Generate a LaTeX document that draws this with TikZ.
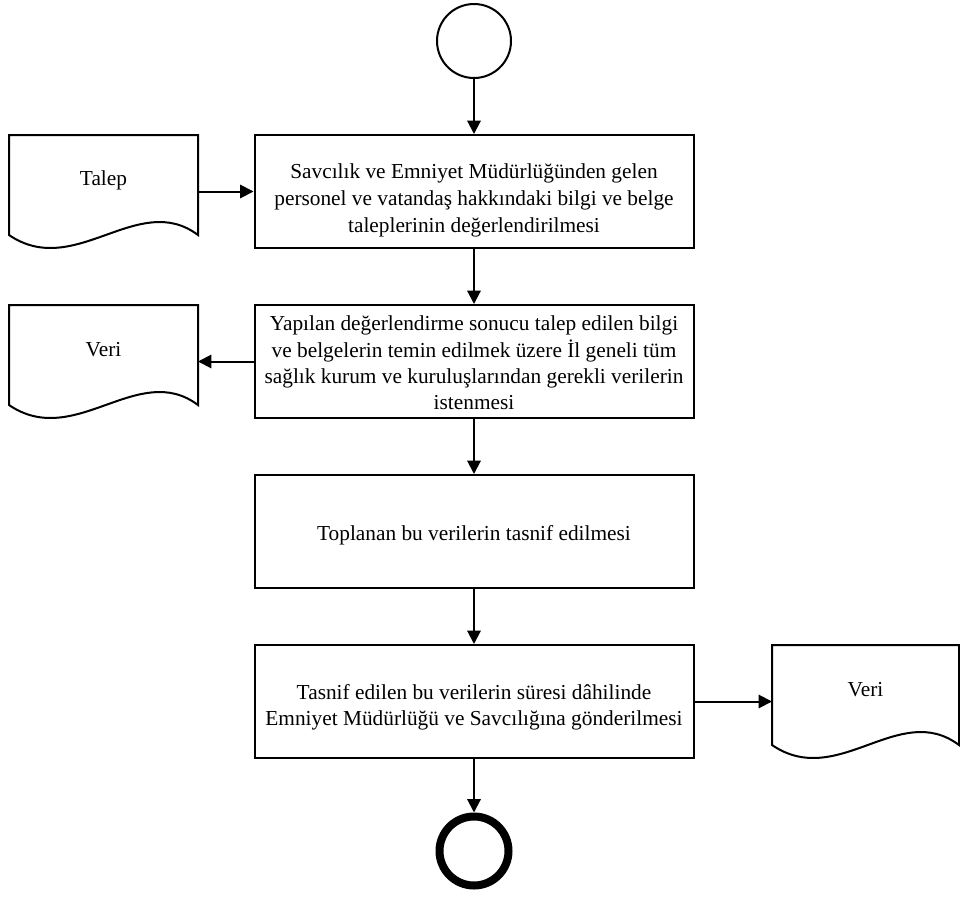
\documentclass[tikz,border=0pt]{standalone}
\usepackage{fontspec}
\setmainfont{Liberation Serif}
\usetikzlibrary{arrows.meta}

% one unit = one pixel of a 960 x 896 canvas, y growing downwards
\tikzset{
  x=0.75pt, y=-0.75pt,
  every node/.style={font=\fontsize{16}{19.8}\selectfont},
  procbox/.style={draw, line width=1.5pt, rectangle, inner sep=0pt,
    minimum width=329.25pt, minimum height=84.75pt},
  proctext/.style={align=center, inner sep=0pt},
  docarea/.style={rectangle, inner sep=0pt, outer sep=0pt,
    minimum width=141.75pt, minimum height=84.75pt},
  startev/.style={draw, circle, line width=1.5pt, inner sep=0pt, minimum size=55.5pt},
  endev/.style={draw, circle, line width=6pt, inner sep=0pt, minimum size=51.75pt},
  flow/.style={line width=1.5pt, -{Triangle[length=10pt,width=10pt]}},
  docline/.style={line width=1.5pt, line join=miter},
}

% document symbol: left x, top y, right x
\newcommand\docoutline[3]{%
  \draw[docline] (#1,{#2+100}) -- (#1,#2) -- (#3,#2) -- (#3,{#2+100})
    .. controls ({#3-60},{#2+55}) and ({#1+66},{#2+145}) .. (#1,{#2+100}) -- cycle;}

\begin{document}
\begin{tikzpicture}
\useasboundingbox (0,0) rectangle (960,896);

% events
\node[startev] (start) at (474,41) {};
\node[endev] (stop) at (474,851) {};

% process steps
\node[procbox] (b1) at (474,191.5) {};
\node[proctext, font=\fontsize{16}{20.3}\selectfont] (b1t) at (474,200.5) {Savcılık ve Emniyet Müdürlüğünden gelen\\personel ve vatandaş hakkındaki bilgi ve belge\\taleplerinin değerlendirilmesi};
\node[procbox] (b2) at (474,361.5) {};
\node[proctext] (b2t) at (474,363) {Yapılan değerlendirme sonucu talep edilen bilgi\\ve belgelerin temin edilmek üzere İl geneli tüm\\sağlık kurum ve kuruluşlarından gerekli verilerin\\istenmesi};
\node[procbox] (b3) at (474,531.5) {};
\node[proctext] (b3t) at (474,535) {Toplanan bu verilerin tasnif edilmesi};
\node[procbox] (b4) at (474,701.5) {};
\node[proctext] (b4t) at (474,707) {Tasnif edilen bu verilerin süresi dâhilinde\\Emniyet Müdürlüğü ve Savcılığına gönderilmesi};

% documents
\docoutline{9}{135}{198}
\node[docarea] (talep) at (103.5,191.5) {};
\node (talepT) at (103.5,180) {Talep};

\docoutline{9}{305}{198}
\node[docarea] (veri1) at (103.5,361.5) {};
\node (veri1T) at (103.5,350) {Veri};

\docoutline{772}{645}{959}
\node[docarea, minimum width=140.25pt] (veri2) at (865.5,701.5) {};
\node (veri2T) at (865.5,690) {Veri};

% connectors
\draw[flow] (start) -- (b1);
\draw[flow] (b1) -- (b2);
\draw[flow] (b2) -- (b3);
\draw[flow] (b3) -- (b4);
\draw[flow] (b4) -- (stop);
\draw[flow] (talep.east) -- (b1.west);
\draw[flow] (b2.west) -- (veri1.east);
\draw[flow] (b4.east) -- (veri2.west);
\end{tikzpicture}
\end{document}
